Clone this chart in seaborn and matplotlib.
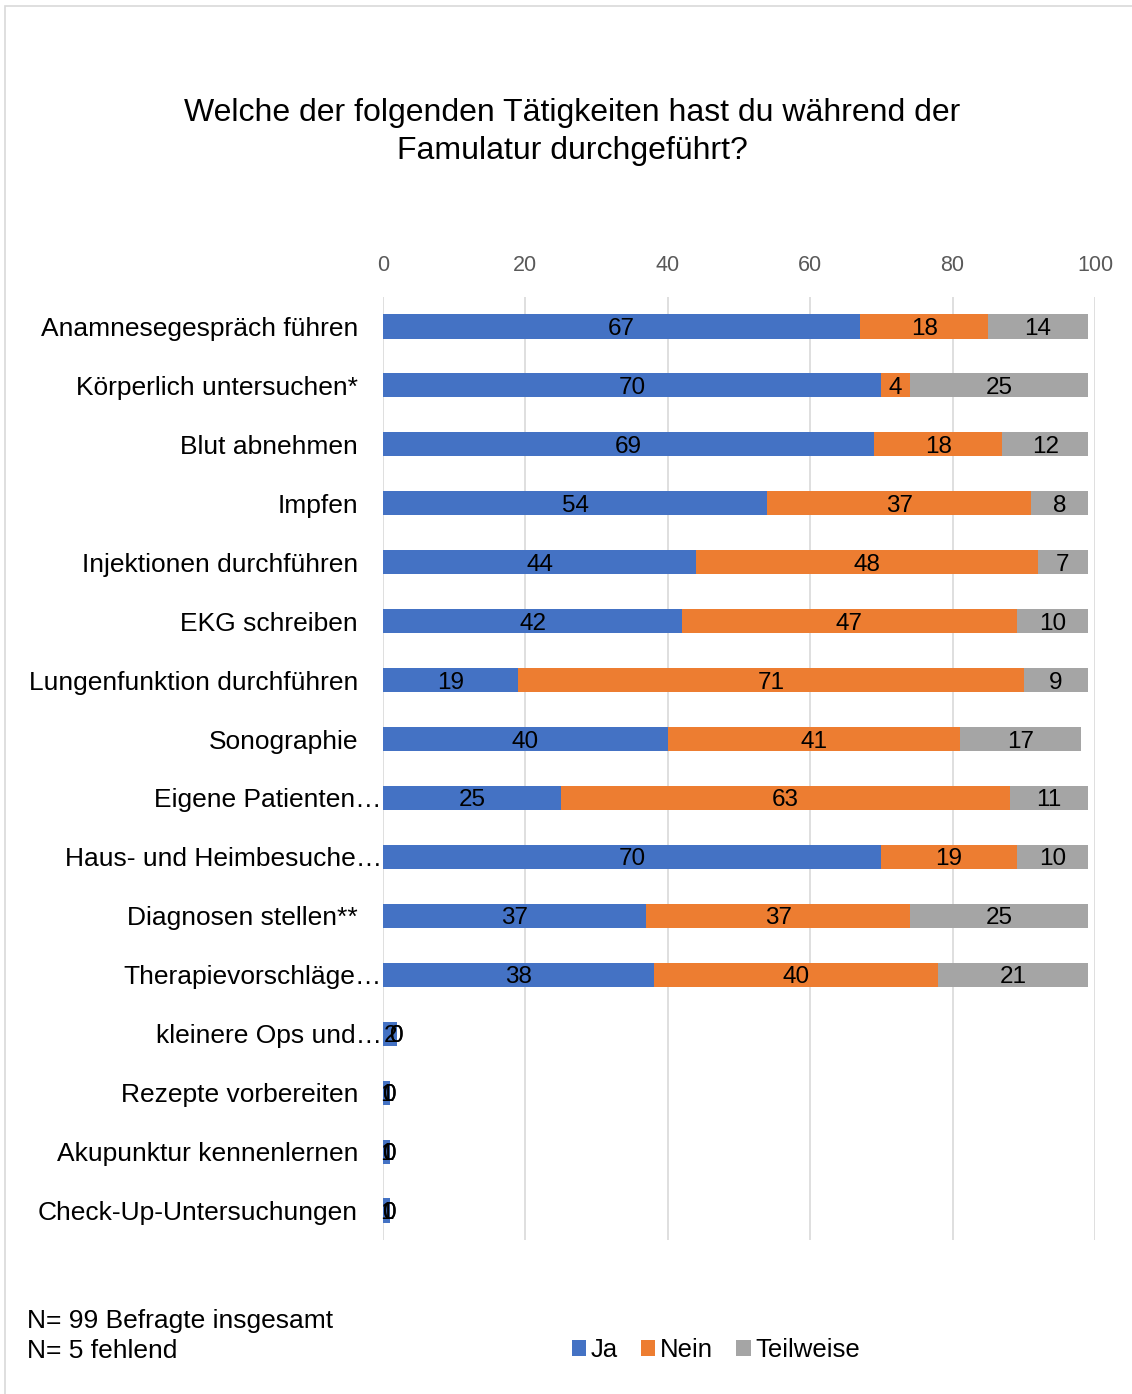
import matplotlib
matplotlib.use("Agg")
import matplotlib.pyplot as plt
from matplotlib.patches import Rectangle, Patch
import matplotlib.transforms as mtransforms
import seaborn as sns
import numpy as np
import pandas as pd

categories = [
    "Anamnesegespräch führen",
    "Körperlich untersuchen*",
    "Blut abnehmen",
    "Impfen",
    "Injektionen durchführen",
    "EKG schreiben",
    "Lungenfunktion durchführen",
    "Sonographie",
    "Eigene Patienten…",
    "Haus- und Heimbesuche…",
    "Diagnosen stellen**",
    "Therapievorschläge…",
    "kleinere Ops und…",
    "Rezepte vorbereiten",
    "Akupunktur kennenlernen",
    "Check-Up-Untersuchungen",
]
ja = [67, 70, 69, 54, 44, 42, 19, 40, 25, 70, 37, 38, 2, 1, 1, 1]
nein = [18, 4, 18, 37, 48, 47, 71, 41, 63, 19, 37, 40, 0, 0, 0, 0]
teilweise = [14, 25, 12, 8, 7, 10, 9, 17, 11, 10, 25, 21, 0, 0, 0, 0]
series_names = ["Ja", "Nein", "Teilweise"]
colors = ["#4472C4", "#ED7D31", "#A5A5A5"]
x_ticks = [0, 20, 40, 60, 80, 100]
title = "Welche der folgenden Tätigkeiten hast du während der\nFamulatur durchgeführt?"
note_lines = ["N= 99 Befragte insgesamt", "N= 5 fehlend"]

sns.set_theme(style="white")
plt.rcParams["font.family"] = ["Liberation Sans", "DejaVu Sans"]
plt.rcParams["text.color"] = "black"

W, H = 1132, 1394
fig = plt.figure(figsize=(W / 100, H / 100), dpi=100)
ax = fig.add_axes([383 / W, 1 - 1240 / H, (1095 - 383) / W, (1240 - 297) / H])

df = pd.DataFrame({"cat": categories, "Ja": ja, "Nein": nein, "Teilweise": teilweise})
df["c1"] = df["Ja"]
df["c2"] = df["Ja"] + df["Nein"]
df["c3"] = df["c2"] + df["Teilweise"]

bw = 0.41
for col, c in zip(["c3", "c2", "c1"], colors[::-1]):
    sns.barplot(data=df, x=col, y="cat", order=categories, orient="h",
                color=c, width=bw, ax=ax, saturation=1, edgecolor="none",
                linewidth=0, zorder=3)

# data labels
starts = np.zeros(len(categories))
for name in series_names:
    vals = np.array(df[name], dtype=float)
    for i, v in enumerate(vals):
        ax.text(starts[i] + v / 2, i, f"{int(v)}", ha="center", va="center_baseline",
                fontsize=17.5, color="black", zorder=5)
    starts += vals

ax.set_xlim(0, 100)
ax.set_ylim(len(categories) - 0.5, -0.5)
ax.set_xticks(x_ticks)
ax.xaxis.tick_top()
ax.tick_params(axis="x", length=0, pad=15, labelsize=15.5, labelcolor="#595959")
ax.tick_params(axis="y", length=0, pad=18, labelsize=19, labelcolor="black")
ax.set_xlabel("")
ax.set_ylabel("")
ax.grid(axis="x", color="#D9D9D9", linewidth=1.2, zorder=0)
ax.set_axisbelow(True)
for s in ax.spines.values():
    s.set_visible(False)

# truncated labels reach closer to the axis, as in the reference
shift = mtransforms.ScaledTranslation(24 / 100, 0, fig.dpi_scale_trans)
for lab in ax.get_yticklabels():
    if lab.get_text().endswith("…"):
        lab.set_transform(lab.get_transform() + shift)

fig.text(572 / W, 1 - 132 / H, title, ha="center", va="center", fontsize=23,
         linespacing=1.32, color="black")

fig.text(27 / W, 1 - 1321 / H, note_lines[0], ha="left", va="center", fontsize=19)
fig.text(27 / W, 1 - 1351 / H, note_lines[1], ha="left", va="center", fontsize=19)

handles = [Patch(facecolor=c, edgecolor="none") for c in colors]
fig.legend(handles, series_names, loc="center", bbox_to_anchor=(716 / W, 1 - 1350 / H),
           ncol=3, frameon=False, fontsize=18.5, handlelength=0.55, handleheight=0.55,
           handletextpad=0.2, columnspacing=0.9)

fig.patches.append(Rectangle((5 / W, -0.01), 1.0, 1 - 6 / H + 0.01, transform=fig.transFigure,
                             fill=False, edgecolor="#D9D9D9", linewidth=1.2))

fig.savefig("out.png", dpi=100)
